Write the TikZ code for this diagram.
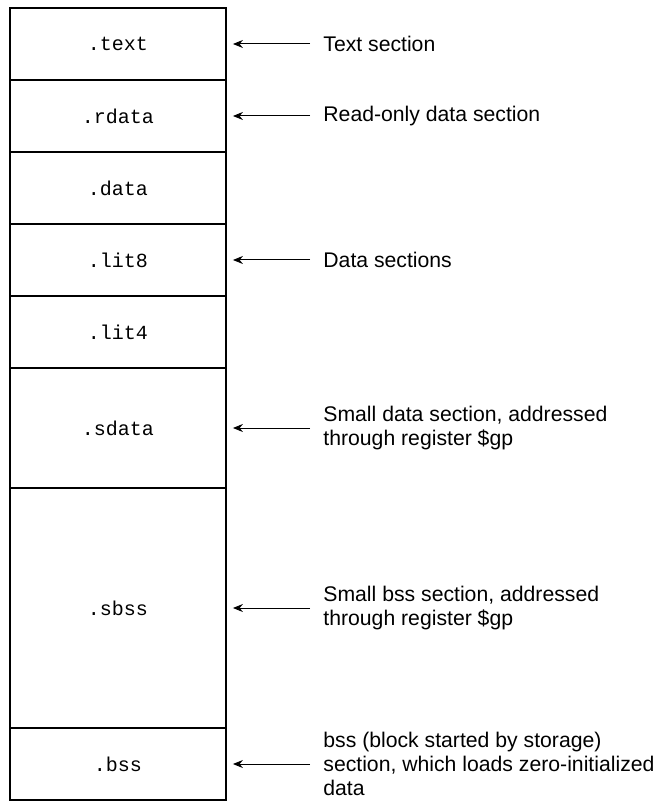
\documentclass[tikz,border=0pt]{standalone}
\usepackage{fontspec}
\setmainfont{Liberation Sans}
\setmonofont{Liberation Mono}
\usetikzlibrary{arrows.meta}
\begin{document}
\begin{tikzpicture}[x=0.5pt,y=-0.5pt,
  sec/.style={draw, line width=0.9pt, minimum width=108pt, inner sep=0pt,
    font=\ttfamily\fontsize{10}{12}\selectfont},
  lbl/.style={anchor=west, align=left, inner sep=0pt,
    font=\fontsize{10.6}{11.8}\selectfont},
  arr/.style={-{Stealth[length=5pt,width=4pt]}, line width=0.5pt}]
\useasboundingbox (0,0) rectangle (660,801);
\node[sec, minimum height=36pt]  (text)  at (118,44)  {.text};
\node[sec, minimum height=36pt]  (rdata) at (118,116) {.rdata};
\node[sec, minimum height=36pt]  (data)  at (118,188) {.data};
\node[sec, minimum height=36pt]  (lit8)  at (118,260) {.lit8};
\node[sec, minimum height=36pt]  (lit4)  at (118,332) {.lit4};
\node[sec, minimum height=60pt]  (sdata) at (118,428) {.sdata};
\node[sec, minimum height=120pt] (sbss)  at (118,608) {.sbss};
\node[sec, minimum height=36pt]  (bss)   at (118,764) {.bss};

\node[lbl] (l1) at (323,44)  {Text section};
\node[lbl] (l2) at (323,116) {Read-only data section};
\node[lbl] (l3) at (323,260) {Data sections};
\node[lbl] (l4) at (323,428) {Small data section, addressed\\through register \$gp};
\node[lbl] (l5) at (323,608) {Small bss section, addressed\\through register \$gp};
\node[lbl] (l6) at (323,764) {bss (block started by storage)\\section, which loads zero-initialized\\data};

\foreach \l/\s in {l1/text, l2/rdata, l3/lit8, l4/sdata, l5/sbss, l6/bss}
  \draw[arr] ([xshift=-6.5pt]\l.west) -- ([xshift=3pt]\s.east);
\end{tikzpicture}
\end{document}
